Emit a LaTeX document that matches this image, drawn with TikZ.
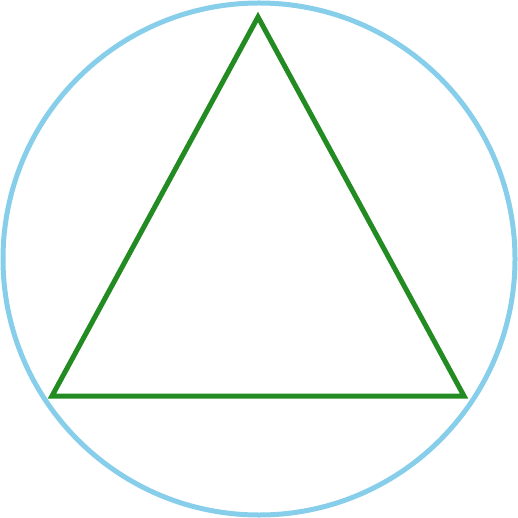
\documentclass[tikz,border=0pt]{standalone}
\definecolor{sky}{HTML}{87CEEB}
\definecolor{fgreen}{HTML}{228B22}
\begin{document}
\begin{tikzpicture}[x=1pt,y=-1pt,
  ring/.style={draw=sky,line width=5pt},
  tri/.style={draw=fgreen,line width=5pt,line join=miter}]
\useasboundingbox (0,0) rectangle (518,518);
\draw[ring] (259,259) circle (256);
\coordinate (A) at (258,17);
\coordinate (B) at (52,396);
\coordinate (C) at (464,396);
\draw[tri] (A) -- (B) -- (C) -- cycle;
\end{tikzpicture}
\end{document}
